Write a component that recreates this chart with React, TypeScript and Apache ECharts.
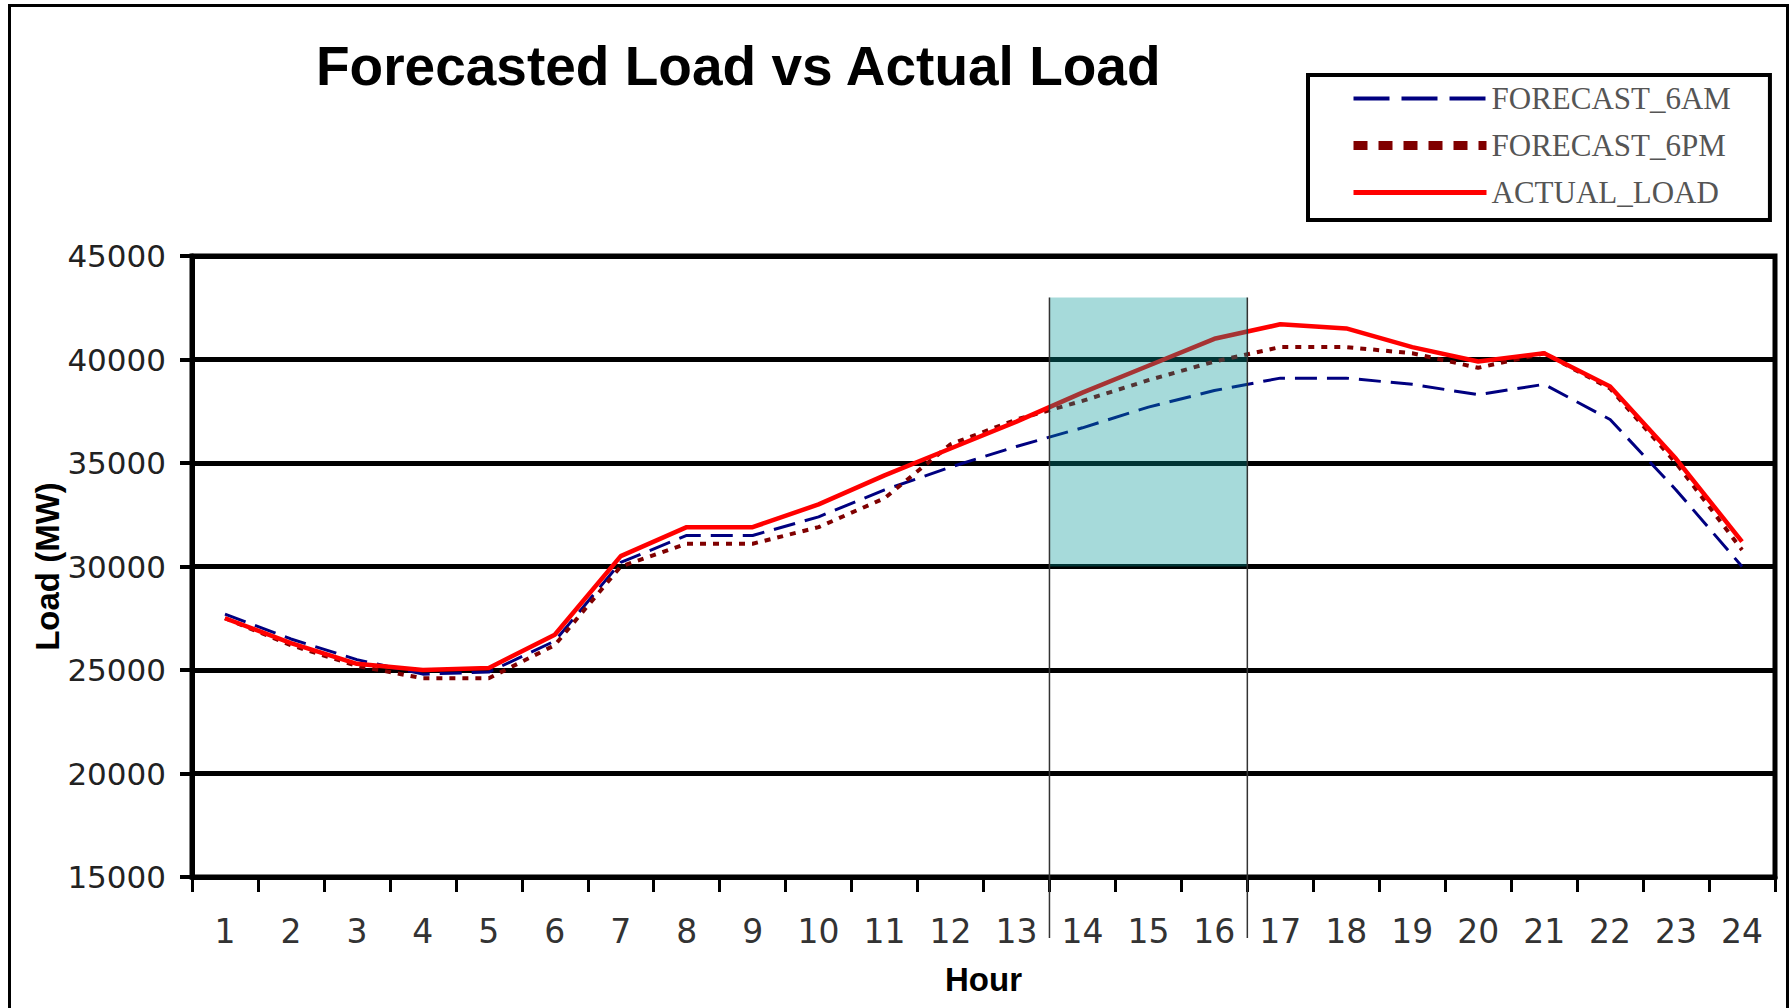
import React, { useEffect, useRef } from "react";
import * as echarts from "echarts";

const hours = ["1","2","3","4","5","6","7","8","9","10","11","12","13","14","15","16","17","18","19","20","21","22","23","24"];
const forecast6am = [27700, 26500, 25500, 24800, 24900, 26400, 30200, 31500, 31500, 32400, 33700, 34800, 35800, 36700, 37700, 38500, 39100, 39100, 38800, 38300, 38800, 37100, 33700, 30000];
const forecast6pm = [27500, 26200, 25200, 24600, 24600, 26200, 30000, 31100, 31100, 31900, 33300, 35900, 37100, 38000, 39000, 39900, 40600, 40600, 40300, 39600, 40300, 38600, 35000, 30800];
const actualLoad = [27500, 26300, 25300, 25000, 25100, 26700, 30500, 31900, 31900, 33000, 34400, 35700, 37000, 38400, 39700, 41000, 41700, 41500, 40600, 39900, 40300, 38700, 35200, 31200];
const seriesNames = ["FORECAST_6AM", "FORECAST_6PM", "ACTUAL_LOAD"];
const shadeFrom = 13;
const shadeTo = 16;
const shadeLow = 30000;
const shadeHigh = 43000;

export default function App() {
  const ref = useRef<HTMLDivElement>(null);
  useEffect(() => {
    if (!ref.current) return;
    const chart = echarts.init(ref.current, null, { renderer: "svg" });
    const option: any = {
      animation: false,
      backgroundColor: "#ffffff",
      title: {
        text: "Forecasted Load vs Actual Load",
        left: 316,
        top: 38,
        padding: 0,
        textStyle: { fontFamily: "Liberation Sans", fontSize: 55, fontWeight: "bold", color: "#000", lineHeight: 56 },
      },
      legend: {
        orient: "vertical",
        left: 1308,
        top: 75,
        padding: [8, 39, 12, 41],
        borderColor: "#000",
        borderWidth: 4,
        itemWidth: 133,
        itemHeight: 14,
        itemGap: 16,
        textStyle: { fontFamily: "Liberation Serif", fontSize: 31, color: "#555", lineHeight: 30 },
        data: [
          { name: seriesNames[0], itemStyle: { opacity: 0 }, lineStyle: { width: 4, type: [36, 12], color: "#000080" } },
          { name: seriesNames[1], itemStyle: { opacity: 0 }, lineStyle: { width: 9, type: [14, 11], color: "#800000" } },
          { name: seriesNames[2], itemStyle: { opacity: 0 }, lineStyle: { width: 5, color: "#ff0000" } },
        ],
      },
      grid: {
        left: 192,
        right: 16,
        top: 256,
        bottom: 131,
        show: true,
        borderColor: "#000",
        borderWidth: 5,
        containLabel: false,
      },
      xAxis: [
        {
          type: "category",
          data: hours,
          boundaryGap: true,
          name: "Hour",
          nameLocation: "middle",
          nameGap: 86,
          nameMoveOverlap: false,
          nameTextStyle: { fontFamily: "Liberation Sans", fontSize: 33, fontWeight: "bold", color: "#000" },
          axisLine: { lineStyle: { color: "#000", width: 5 } },
          axisTick: { show: true, length: 15, lineStyle: { color: "#000", width: 3 } },
          axisLabel: { margin: 38, fontFamily: "DejaVu Sans", fontSize: 33, color: "#333" },
          splitLine: { show: false },
        },
        {
          type: "value",
          min: 0,
          max: 24,
          show: false,
        },
      ],
      yAxis: {
        type: "value",
        min: 15000,
        max: 45000,
        interval: 5000,
        name: "Load (MW)",
        nameLocation: "middle",
        nameGap: 128,
        nameMoveOverlap: false,
        nameTextStyle: { fontFamily: "Liberation Sans", fontSize: 33, fontWeight: "bold", color: "#000" },
        axisLine: { show: true, lineStyle: { color: "#000", width: 5 } },
        axisTick: { show: true, length: 12, lineStyle: { color: "#000", width: 4 } },
        axisLabel: { margin: 26, fontFamily: "DejaVu Sans", fontSize: 31, color: "#222", formatter: (v: number) => String(v) },
        splitLine: { show: true, lineStyle: { color: "#000", width: 5 } },
      },
      series: [
        {
          name: seriesNames[0],
          type: "line",
          data: forecast6am,
          symbol: "none",
          color: "#000080",
          lineStyle: { color: "#000080", width: 3, type: [22, 10] },
          z: 3,
        },
        {
          name: seriesNames[1],
          type: "line",
          data: forecast6pm,
          symbol: "none",
          color: "#800000",
          lineStyle: { color: "#800000", width: 4, type: [6, 7] },
          z: 4,
        },
        {
          name: seriesNames[2],
          type: "line",
          data: actualLoad,
          symbol: "none",
          color: "#ff0000",
          lineStyle: { color: "#ff0000", width: 4.5 },
          z: 5,
        },
        {
          name: "axisHelper",
          type: "line",
          xAxisIndex: 1,
          yAxisIndex: 0,
          data: [],
          symbol: "none",
        },
      ],
    };
    chart.setOption(option);
    const xa = chart.convertToPixel({ xAxisIndex: 1 }, shadeFrom) as number;
    const xb = chart.convertToPixel({ xAxisIndex: 1 }, shadeTo) as number;
    const yTop = chart.convertToPixel({ yAxisIndex: 0 }, shadeHigh) as number;
    const yLow = chart.convertToPixel({ yAxisIndex: 0 }, shadeLow) as number;
    const yAxisBottom = chart.convertToPixel({ yAxisIndex: 0 }, 15000) as number;
    const yEnd = yAxisBottom + 61;
    chart.setOption({
      graphic: [
        {
          type: "rect",
          shape: { x: 9.5, y: 5.5, width: 1778, height: 1010 },
          style: { fill: "none", stroke: "#000", lineWidth: 3 },
          silent: true,
          z: 100,
        },
        {
          type: "rect",
          shape: { x: xa, y: yTop, width: xb - xa, height: yLow - yTop },
          style: { fill: "rgba(0,150,150,0.35)" },
          silent: true,
          z: 90,
        },
        {
          type: "line",
          shape: { x1: xa, y1: yTop, x2: xa, y2: yEnd },
          style: { stroke: "#333", lineWidth: 1.5 },
          silent: true,
          z: 100,
        },
        {
          type: "line",
          shape: { x1: xb, y1: yTop, x2: xb, y2: yEnd },
          style: { stroke: "#333", lineWidth: 1.5 },
          silent: true,
          z: 100,
        },
      ],
    });
    return () => chart.dispose();
  }, []);
  return <div ref={ref} style={{ position: "fixed", left: 0, top: 0, width: 1791, height: 1008, background: "#fff" }} />;
}
